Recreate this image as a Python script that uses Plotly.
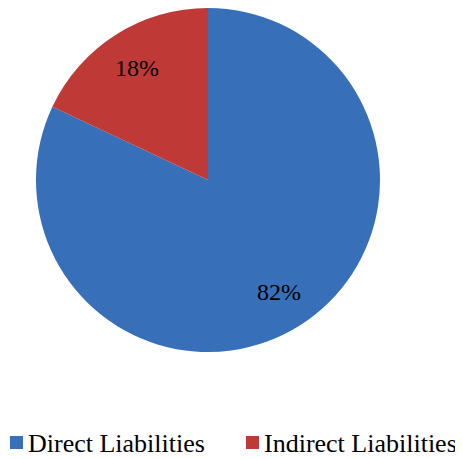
import math
import plotly.graph_objects as go

labels = ["Direct Liabilities", "Indirect Liabilities"]
values = [82, 18]
colors = ["#376fb9", "#bf3a37"]

W, H = 463, 459
OFF = 8  # page body margin of the browser
cx, cy, R = 208 - OFF, 180 - OFF, 172  # pie centre / radius in figure px

fig = go.Figure(go.Pie(
    labels=labels,
    values=values,
    sort=False,
    direction="clockwise",
    rotation=0,
    marker=dict(colors=colors, line=dict(width=0)),
    textinfo="none",
    domain=dict(x=[(cx - R) / W, (cx + R) / W],
                y=[1 - (cy + R) / H, 1 - (cy - R) / H]),
    hoverinfo="skip",
    showlegend=False,
))

# percentage labels placed at the slice mid-angle
total = sum(values)
start = 0.0
for v in values:
    frac = v / total
    mid = (start + frac / 2) * 2 * math.pi  # clockwise from top
    px = cx + 0.77 * R * math.sin(mid)
    py = cy - 0.77 * R * math.cos(mid)
    fig.add_annotation(
        x=px / W, y=1 - py / H, xref="paper", yref="paper",
        xanchor="center", yanchor="middle",
        text=f"{round(frac * 100)}%", showarrow=False,
        font=dict(family="Liberation Serif", size=24, color="black"),
    )
    start += frac

# legend (built from labels / colors)
leg_x = [10 - OFF, 246 - OFF]
leg_y = 443 - OFF
for lab, col, lx in zip(labels, colors, leg_x):
    fig.add_shape(type="rect", xref="paper", yref="paper",
                  x0=lx / W, x1=(lx + 13) / W,
                  y0=1 - (leg_y + 6) / H, y1=1 - (leg_y - 7) / H,
                  fillcolor=col, line=dict(width=0))
    fig.add_annotation(x=(lx + 16) / W, y=1 - leg_y / H, xref="paper", yref="paper",
                       xanchor="left", yanchor="middle", text=lab, showarrow=False,
                       font=dict(family="Liberation Serif", size=26, color="black"))

fig.update_layout(
    width=W, height=H,
    margin=dict(l=0, r=0, t=0, b=0),
    paper_bgcolor="white",
    plot_bgcolor="white",
    showlegend=False,
)

fig.write_html("out.html")
